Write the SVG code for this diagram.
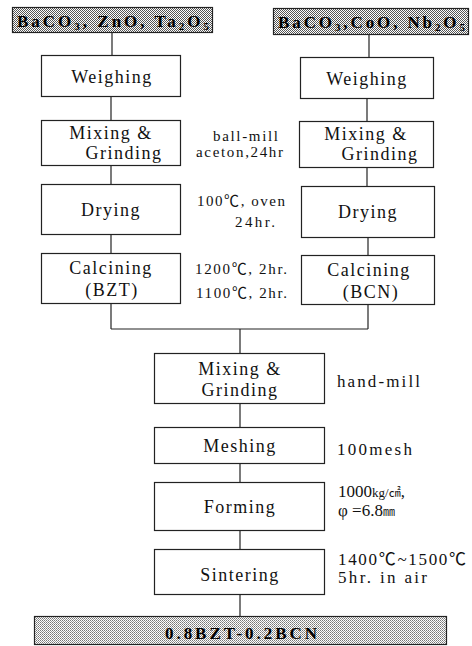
<svg xmlns="http://www.w3.org/2000/svg" width="472" height="646" viewBox="0 0 472 646">
<style>
.box{fill:#fff;stroke:#222;stroke-width:1.2}
.dark{fill:url(#dotsDark);stroke:#222;stroke-width:1.2}
.light{fill:url(#dotsLight);stroke:#222;stroke-width:1.2}
.t{font-family:"Liberation Serif","Noto Serif",serif;font-size:18px;fill:#111;text-anchor:middle;letter-spacing:1.5px}
.lbl{font-family:"Liberation Serif","Noto Sans CJK KR",serif;font-size:15px;fill:#111}
.lbl2{font-family:"Liberation Serif","Noto Sans CJK KR",serif;font-size:17px;fill:#111}
.cjk{font-family:"Noto Sans CJK JP","Noto Sans CJK SC",sans-serif;font-size:12px;fill:#111}
.hd{font-family:"Liberation Serif",serif;font-size:17px;font-weight:bold;fill:#000}
.sub{font-size:11px}
.conn path{fill:none;stroke:#222;stroke-width:1.2}
</style>
<defs>
<pattern id="dotsDark" width="2" height="2" patternUnits="userSpaceOnUse">
<rect width="2" height="2" fill="#fff"/>
<rect width="1" height="1" fill="#555"/>
<rect x="1" y="1" width="1" height="1" fill="#555"/>
</pattern>
<pattern id="dotsLight" width="2" height="2" patternUnits="userSpaceOnUse">
<rect width="2" height="2" fill="#fff"/>
<rect width="1" height="1" fill="#777"/>
<rect x="1" y="1" width="1" height="1" fill="#999"/>
</pattern>
</defs>
<rect width="472" height="646" fill="#fff"/>

<g class="conn" id="connectors">
<path d="M112 32V55"/>
<path d="M111 96V120"/>
<path d="M111 165V184"/>
<path d="M111 234V253"/>
<path d="M111 303V329"/>
<path d="M369 34V57"/>
<path d="M367 98V121"/>
<path d="M367 167V186"/>
<path d="M368 237V255"/>
<path d="M368 304V329"/>
<path d="M111 329H368"/>
<path d="M240 329V353"/>
<path d="M240 403V427"/>
<path d="M240 463V482"/>
<path d="M240 530V549"/>
<path d="M240 594V616"/>
</g>

<g id="src-bzt">
<rect class="dark" x="12.5" y="7.5" width="200" height="25"/>
<text class="hd" x="17" y="27" textLength="192" lengthAdjust="spacing">BaCO<tspan class="sub" dy="3">3</tspan><tspan dy="-3">, ZnO, Ta</tspan><tspan class="sub" dy="3">2</tspan><tspan dy="-3">O</tspan><tspan class="sub" dy="3">5</tspan></text>
</g>
<g id="src-bcn">
<rect class="dark" x="273.5" y="8.5" width="195" height="26"/>
<text class="hd" x="278" y="28" textLength="187" lengthAdjust="spacing">BaCO<tspan class="sub" dy="3">3</tspan><tspan dy="-3">,CoO, Nb</tspan><tspan class="sub" dy="3">2</tspan><tspan dy="-3">O</tspan><tspan class="sub" dy="3">5</tspan></text>
</g>

<g id="weigh-l">
<rect class="box" x="41.5" y="55.5" width="139" height="41"/>
<text class="t" x="112" y="83">Weighing</text>
</g>
<g id="mix-l">
<rect class="box" x="41.5" y="120.5" width="139" height="45"/>
<text class="t" x="111" y="139">Mixing &amp;</text>
<text class="t" x="124" y="159">Grinding</text>
</g>
<g id="dry-l">
<rect class="box" x="41.5" y="184.5" width="139" height="50"/>
<text class="t" x="111" y="216">Drying</text>
</g>
<g id="calc-l">
<rect class="box" x="41.5" y="253.5" width="139" height="50"/>
<text class="t" x="111" y="274">Calcining</text>
<text class="t" x="112" y="296">(BZT)</text>
</g>

<g id="weigh-r">
<rect class="box" x="300.5" y="57.5" width="133" height="41"/>
<text class="t" x="367" y="85">Weighing</text>
</g>
<g id="mix-r">
<rect class="box" x="299.5" y="121.5" width="134" height="46"/>
<text class="t" x="366" y="140">Mixing &amp;</text>
<text class="t" x="380" y="160">Grinding</text>
</g>
<g id="dry-r">
<rect class="box" x="301.5" y="186.5" width="133" height="51"/>
<text class="t" x="368" y="218">Drying</text>
</g>
<g id="calc-r">
<rect class="box" x="301.5" y="255.5" width="133" height="49"/>
<text class="t" x="369" y="276">Calcining</text>
<text class="t" x="371" y="298">(BCN)</text>
</g>

<g id="cond-mix">
<text class="lbl" x="213" y="141" textLength="65" lengthAdjust="spacing">ball-mill</text>
<text class="lbl" x="196" y="157" textLength="87" lengthAdjust="spacing">aceton,24hr</text>
</g>
<g id="cond-dry">
<text class="lbl" x="197" y="206" textLength="88" lengthAdjust="spacing">100℃, oven</text>
<text class="lbl" x="235" y="227" textLength="40" lengthAdjust="spacing">24hr.</text>
</g>
<g id="cond-calc">
<text class="lbl" x="195" y="274" textLength="92" lengthAdjust="spacing">1200℃, 2hr.</text>
<text class="lbl" x="196" y="298" textLength="91" lengthAdjust="spacing">1100℃, 2hr.</text>
</g>

<g id="mix-c">
<rect class="box" x="154.5" y="353.5" width="170" height="50"/>
<text class="t" x="240" y="375">Mixing &amp;</text>
<text class="t" x="240" y="396">Grinding</text>
<text class="lbl2" x="337" y="387" textLength="83" lengthAdjust="spacing">hand-mill</text>
</g>
<g id="mesh">
<rect class="box" x="154.5" y="427.5" width="170" height="36"/>
<text class="t" x="240" y="452">Meshing</text>
<text class="lbl2" x="337" y="455" textLength="75" lengthAdjust="spacing">100mesh</text>
</g>
<g id="form">
<rect class="box" x="154.5" y="482.5" width="170" height="48"/>
<text class="t" x="240" y="513">Forming</text>
<text class="lbl2" x="338" y="497">1000<tspan font-size="13">kg/</tspan><tspan class="cjk">㎠</tspan>,</text>
<text class="lbl2" x="338" y="516">φ =6.8<tspan class="cjk">㎜</tspan></text>
</g>
<g id="sinter">
<rect class="box" x="154.5" y="549.5" width="170" height="45"/>
<text class="t" x="240" y="581">Sintering</text>
<text class="lbl2" x="338" y="565" textLength="128" lengthAdjust="spacing">1400℃~1500℃</text>
<text class="lbl2" x="338" y="583" textLength="89" lengthAdjust="spacing">5hr. in air</text>
</g>
<g id="product">
<rect class="light" x="34.5" y="616.5" width="412" height="28"/>
<text class="hd" x="165" y="639" font-size="18" textLength="152" lengthAdjust="spacing">0.8BZT-0.2BCN</text>
</g>
</svg>
